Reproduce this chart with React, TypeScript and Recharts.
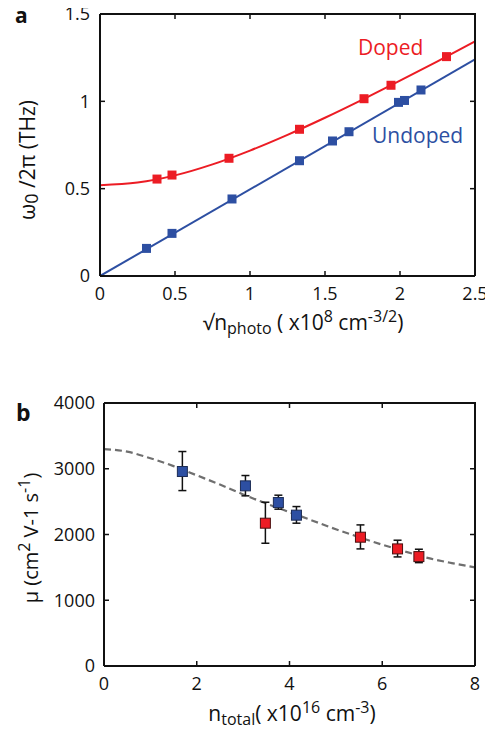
import React from 'react';
import { ComposedChart, Line, Scatter, XAxis, YAxis, ErrorBar } from 'recharts';

// ---------- Panel a data ----------
const aXTicks = [0, 0.5, 1, 1.5, 2, 2.5];
const aYTicks = [0, 0.5, 1, 1.5];
const dopedX = [0.38, 0.48, 0.86, 1.33, 1.76, 1.94, 2.31];
const dopedY = [0.555, 0.578, 0.674, 0.84, 1.015, 1.092, 1.256];
const undopedX = [0.31, 0.48, 0.88, 1.33, 1.55, 1.66, 1.99, 2.03, 2.14];
const undopedY = [0.158, 0.244, 0.441, 0.66, 0.773, 0.826, 0.994, 1.005, 1.065];
const dopedFitX = [0, 0.25, 0.5, 0.75, 1, 1.25, 1.5, 1.75, 2, 2.25, 2.5];
const dopedFitY = [0.52, 0.535, 0.576, 0.639, 0.718, 0.808, 0.906, 1.01, 1.118, 1.229, 1.343];
const undopedFitX = [0, 2.5];
const undopedFitY = [0, 1.24];

// ---------- Panel b data ----------
const bXTicks = [0, 2, 4, 6, 8];
const bYTicks = [0, 1000, 2000, 3000, 4000];
const blueX = [1.69, 3.05, 3.76, 4.15];
const blueY = [2958, 2740, 2486, 2294];
const blueLo = [2668, 2588, 2385, 2172];
const blueHi = [3262, 2897, 2598, 2425];
const redX = [3.48, 5.53, 6.33, 6.79];
const redY = [2172, 1959, 1781, 1664];
const redLo = [1867, 1781, 1659, 1572];
const redHi = [2491, 2146, 1913, 1776];
const fitX = [0, 0.5, 1, 1.5, 2, 2.5, 3, 3.5, 4, 4.5, 5, 5.5, 6, 6.5, 7, 7.5, 8];
const fitY = [3300, 3260, 3160, 3040, 2900, 2760, 2610, 2470, 2340, 2210, 2080, 1960, 1845, 1740, 1640, 1565, 1500];

const RED = '#ec1c24';
const BLUE = '#2d4fa2';
const FONT = "'Open Sans', sans-serif";
const INK = '#111';

// plot boxes (layout): left, top, width, height
const BOX_A = { l: 100, t: 14, w: 375, h: 262 };
const BOX_B = { l: 104, t: 403, w: 371, h: 263 };

const zip = (xs: number[], ys: number[]) => xs.map((x, i) => ({ x, y: ys[i] }));
const withErr = (xs: number[], ys: number[], lo: number[], hi: number[]) =>
  xs.map((x, i) => ({ x, y: ys[i], err: [ys[i] - lo[i], hi[i] - ys[i]] }));
const last = (a: number[]) => a[a.length - 1];

const tickStyle = { fill: INK, fontSize: 18, fontFamily: FONT };
const axisLine = { stroke: INK, strokeWidth: 2 };
const tickLine = { stroke: INK, strokeWidth: 1.5 };

const sq = (fill: string, s: number, stroke?: string) => (p: any) => (
  <rect x={p.cx - s / 2} y={p.cy - s / 2} width={s} height={s} fill={fill}
    stroke={stroke || 'none'} strokeWidth={stroke ? 1 : 0} />
);

function PanelA() {
  return (
    <ComposedChart width={493} height={340} margin={{ top: BOX_A.t, right: 493 - BOX_A.l - BOX_A.w, bottom: 0, left: 0 }}>
      <XAxis dataKey="x" type="number" domain={[0, 2.5]} ticks={aXTicks} height={340 - BOX_A.t - BOX_A.h}
        tick={tickStyle} tickSize={-5} tickMargin={16} axisLine={axisLine} tickLine={tickLine}
        allowDataOverflow />
      <YAxis dataKey="y" type="number" domain={[0, 1.5]} ticks={aYTicks} width={BOX_A.l}
        tick={tickStyle} tickSize={-5} tickMargin={15} axisLine={axisLine} tickLine={tickLine}
        allowDataOverflow />
      <Line data={zip(dopedFitX, dopedFitY)} dataKey="y" type="monotone" stroke={RED} strokeWidth={2}
        dot={false} isAnimationActive={false} />
      <Line data={zip(undopedFitX, undopedFitY)} dataKey="y" type="linear" stroke={BLUE} strokeWidth={2}
        dot={false} isAnimationActive={false} />
      <Scatter data={zip(dopedX, dopedY)} dataKey="y" shape={sq(RED, 9)} isAnimationActive={false} />
      <Scatter data={zip(undopedX, undopedY)} dataKey="y" shape={sq(BLUE, 9)} isAnimationActive={false} />
    </ComposedChart>
  );
}

function PanelB() {
  return (
    <ComposedChart width={493} height={359} margin={{ top: BOX_B.t - 370, right: 493 - BOX_B.l - BOX_B.w, bottom: 0, left: 0 }}>
      <XAxis dataKey="x" type="number" domain={[0, 8]} ticks={bXTicks} height={359 - (BOX_B.t - 370) - BOX_B.h}
        tick={tickStyle} tickSize={-5} tickMargin={16} axisLine={axisLine} tickLine={tickLine}
        allowDataOverflow />
      <YAxis dataKey="y" type="number" domain={[0, 4000]} ticks={bYTicks} width={BOX_B.l}
        tick={tickStyle} tickSize={-5} tickMargin={14} axisLine={axisLine} tickLine={tickLine}
        allowDataOverflow />
      <Line data={zip(fitX, fitY)} dataKey="y" type="monotone" stroke="#6f6f6f" strokeWidth={2.2}
        strokeDasharray="7 4" dot={false} isAnimationActive={false} />
      <Scatter data={withErr(blueX, blueY, blueLo, blueHi)} dataKey="y" shape={sq(BLUE, 10, '#1c2c55')}
        isAnimationActive={false}>
        <ErrorBar dataKey="err" direction="y" width={4} stroke={INK} strokeWidth={1.5} />
      </Scatter>
      <Scatter data={withErr(redX, redY, redLo, redHi)} dataKey="y" shape={sq(RED, 10, '#4a1010')}
        isAnimationActive={false}>
        <ErrorBar dataKey="err" direction="y" width={4} stroke={INK} strokeWidth={1.5} />
      </Scatter>
    </ComposedChart>
  );
}

// Top and right edges of the axis box with inward ticks (decoration only)
function BoxEdges({ box, xt, yt }: { box: { l: number; t: number; w: number; h: number }; xt: number[]; yt: number[] }) {
  const r = box.l + box.w;
  const b = box.t + box.h;
  const xs = xt.map((v) => box.l + ((v - xt[0]) / (last(xt) - xt[0])) * box.w);
  const ys = yt.map((v) => b - ((v - yt[0]) / (last(yt) - yt[0])) * box.h);
  return (
    <g>
      <polyline points={`${box.l},${box.t} ${r},${box.t} ${r},${b}`} fill="none" stroke={INK} strokeWidth={2} />
      {xs.map((x, i) => <line key={'x' + i} x1={x} y1={box.t} x2={x} y2={box.t + 5} stroke={INK} strokeWidth={1.5} />)}
      {ys.map((y, i) => <line key={'y' + i} x1={r} y1={y} x2={r - 5} y2={y} stroke={INK} strokeWidth={1.5} />)}
    </g>
  );
}

function Labels() {
  return (
    <svg width={493} height={729} style={{ position: 'absolute', left: 0, top: 0, pointerEvents: 'none' }}
      fontFamily={FONT}>
      <BoxEdges box={BOX_A} xt={aXTicks} yt={aYTicks} />
      <BoxEdges box={BOX_B} xt={bXTicks} yt={bYTicks} />
      <text x={15} y={23} fontSize={21} fontWeight={700} fill={INK}>a</text>
      <text x={16} y={421} fontSize={23} fontWeight={700} fill={INK}>b</text>
      <text x={358} y={55} fontSize={21} fill={RED}>Doped</text>
      <text x={372} y={143} fontSize={21} fill={BLUE}>Undoped</text>
      <text transform="translate(35,160) rotate(-90)" textAnchor="middle" fontSize={21} fill={INK}>
        ω<tspan fontSize={18} dy={3}>0</tspan><tspan dy={-3}> /2π  (THz)</tspan>
      </text>
      <text x={303} y={330} textAnchor="middle" fontSize={21} fill={INK}>
        √n<tspan fontSize={16} dy={4}>photo</tspan><tspan dy={-4}> ( x10</tspan>
        <tspan fontSize={16} dy={-8}>8</tspan><tspan dy={8}> cm</tspan>
        <tspan fontSize={16} dy={-8}>-3/2</tspan><tspan dy={8}>)</tspan>
      </text>
      <text x={292} y={721} textAnchor="middle" fontSize={21} fill={INK}>
        n<tspan fontSize={16} dy={4}>total</tspan><tspan dy={-4}>( x10</tspan>
        <tspan fontSize={16} dy={-8}>16</tspan><tspan dy={8}> cm</tspan>
        <tspan fontSize={16} dy={-8}>-3</tspan><tspan dy={8}>)</tspan>
      </text>
      <text transform="translate(38,538) rotate(-90)" textAnchor="middle" fontSize={20} fill={INK}>
        μ (cm<tspan fontSize={16} dy={-8}>2</tspan><tspan dy={8}> V-1 s</tspan>
        <tspan fontSize={16} dy={-8}>-1</tspan><tspan dy={8}>)</tspan>
      </text>
    </svg>
  );
}

export default function App() {
  return (
    <div style={{ position: 'relative', width: 493, height: 729, margin: '-8px 0 0 -8px', background: '#fff', fontFamily: FONT }}>
      <div style={{ position: 'absolute', left: 0, top: 0 }}><PanelA /></div>
      <div style={{ position: 'absolute', left: 0, top: 370 }}><PanelB /></div>
      <Labels />
    </div>
  );
}
